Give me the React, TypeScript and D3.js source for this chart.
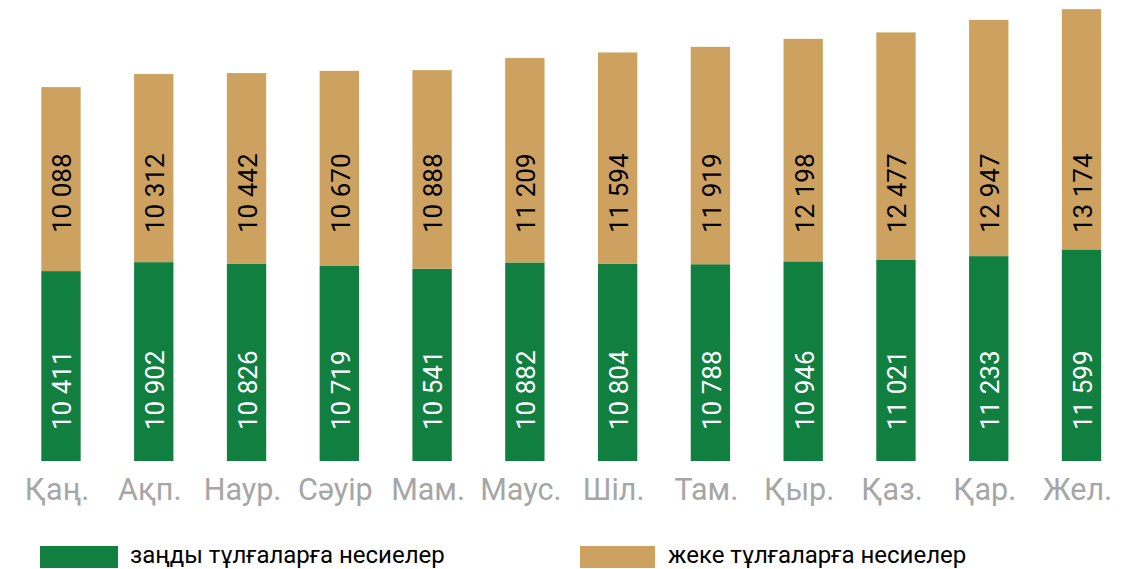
import React from "react";
import * as d3 from "d3";

const months = ["Қаң.", "Ақп.", "Наур.", "Сәуір", "Мам.", "Маус.", "Шіл.", "Там.", "Қыр.", "Қаз.", "Қар.", "Жел."];
const legalLoans = [10411, 10902, 10826, 10719, 10541, 10882, 10804, 10788, 10946, 11021, 11233, 11599];
const personalLoans = [10088, 10312, 10442, 10670, 10888, 11209, 11594, 11919, 12198, 12477, 12947, 13174];
const seriesNames = ["заңды тұлғаларға несиелер", "жеке тұлғаларға несиелер"];

const W = 1132;
const H = 569;
const GREEN = "#107f40";
const TAN = "#cda260";
const FONT = "Roboto, 'Noto Sans', sans-serif";

const fmt = (v: number) => {
  const s = String(v);
  return s.slice(0, s.length - 3) + " " + s.slice(-3);
};

export default function App() {
  const x = d3.scaleBand<string>().domain(months).range([14.6, 1127.9]).paddingInner(0.576).paddingOuter(0.288);
  const y = d3.scaleLinear().domain([0, 25000]).range([461, 5]);
  const bw = x.bandwidth();

  return (
    <svg width={W} height={H} style={{ position: "absolute", left: 0, top: 0, background: "#fff" }} fontFamily={FONT}>
      {months.map((m, i) => {
        const x0 = x(m)!;
        const cx = x0 + bw / 2;
        const g = legalLoans[i];
        const p = personalLoans[i];
        const gTop = y(g);
        const pTop = y(g + p);
        return (
          <g key={m}>
            <rect x={x0} y={gTop} width={bw} height={y(0) - gTop} fill={GREEN} />
            <rect x={x0} y={pTop} width={bw} height={gTop - pTop} fill={TAN} />
            <text transform={`translate(${cx + 1},430) rotate(-90)`} dy="0.36em" fontSize={26} fill="#fff">
              {fmt(g)}
            </text>
            <text transform={`translate(${cx + 1},233) rotate(-90)`} dy="0.36em" fontSize={26} fill="#000">
              {fmt(p)}
            </text>
            <text x={cx - 4} y={500} textAnchor="middle" fontSize={30.5} fill="#a6a6a6">
              {m}
            </text>
          </g>
        );
      })}
      <rect x={40} y={546} width={78} height={22} fill={GREEN} />
      <text x={130} y={562.5} fontSize={24} fill="#000">{seriesNames[0]}</text>
      <rect x={580} y={546} width={75} height={22} fill={TAN} />
      <text x={668} y={562.5} fontSize={24} fill="#000">{seriesNames[1]}</text>
    </svg>
  );
}
